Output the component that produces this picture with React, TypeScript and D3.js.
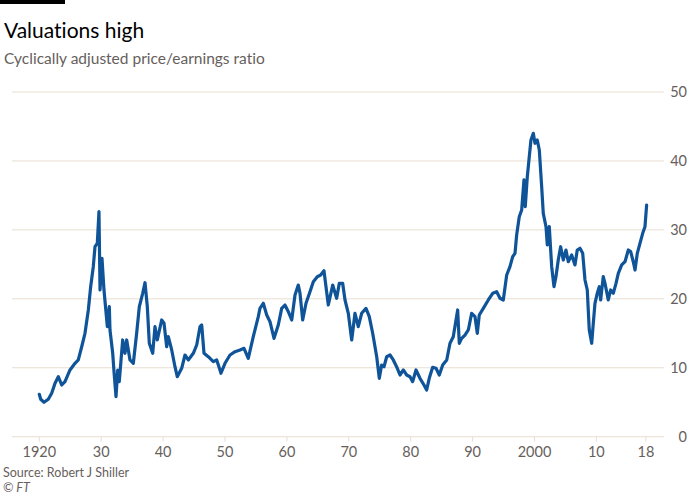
import React from "react";
import * as d3 from "d3";

const years: number[] = [
  1920.0, 1920.23, 1920.76, 1921.45, 1922.0, 1922.54, 1923.07, 1923.62, 1924.15, 1924.96,
  1925.77, 1926.3, 1926.85, 1927.38, 1927.92, 1928.3, 1928.72, 1929.0, 1929.37, 1929.64,
  1929.81, 1930.13, 1930.45, 1930.99, 1931.31, 1931.42, 1931.86, 1932.07, 1932.39, 1932.67,
  1932.92, 1933.47, 1933.84, 1934.12, 1934.65, 1935.19, 1935.73, 1936.16, 1936.7, 1937.08,
  1937.45, 1937.77, 1938.32, 1938.69, 1939.06, 1939.77, 1940.15, 1940.58, 1940.84, 1941.39,
  1941.92, 1942.29, 1943.0, 1943.54, 1944.07, 1944.88, 1945.43, 1945.96, 1946.24, 1946.61,
  1947.3, 1948.11, 1948.66, 1949.19, 1949.35, 1950.0, 1950.81, 1951.62, 1952.43, 1953.07,
  1953.76, 1954.57, 1955.38, 1955.65, 1956.19, 1956.74, 1957.27, 1957.92, 1958.61, 1959.16,
  1959.69, 1960.23, 1960.78, 1961.31, 1961.84, 1962.12, 1962.55, 1963.09, 1963.73, 1964.27,
  1964.91, 1965.46, 1965.99, 1966.69, 1967.4, 1968.04, 1968.47, 1969.01, 1969.39, 1969.92,
  1970.47, 1971.0, 1971.53, 1972.08, 1972.78, 1973.31, 1973.86, 1974.51, 1974.93, 1975.31,
  1975.69, 1976.12, 1976.66, 1977.19, 1977.84, 1978.27, 1978.81, 1979.35, 1979.89, 1980.32,
  1980.86, 1981.5, 1982.15, 1982.58, 1983.0, 1983.55, 1984.09, 1984.62, 1985.17, 1985.82,
  1986.35, 1986.88, 1987.59, 1987.85, 1988.24, 1988.77, 1989.31, 1989.85, 1990.39, 1990.76,
  1991.08, 1991.73, 1992.54, 1993.25, 1993.89, 1994.43, 1994.96, 1995.51, 1996.04, 1996.48,
  1996.85, 1997.12, 1997.54, 1997.93, 1998.3, 1998.51, 1998.84, 1999.16, 1999.43, 1999.81,
  2000.08, 2000.45, 2000.78, 2001.16, 2001.42, 2001.86, 2002.07, 2002.39, 2002.78, 2003.15,
  2003.47, 2003.84, 2004.23, 2004.65, 2005.09, 2005.46, 2006.01, 2006.54, 2006.91, 2007.35,
  2007.79, 2008.16, 2008.53, 2008.85, 2009.24, 2009.5, 2009.77, 2010.14, 2010.47, 2010.69,
  2011.11, 2011.39, 2011.92, 2012.31, 2012.73, 2013.17, 2013.54, 2014.09, 2014.62, 2015.16,
  2015.54, 2015.96, 2016.24, 2016.61, 2017.04, 2017.48, 2017.85, 2018.12,
];

const cape: number[] = [
  6.15, 5.43, 4.99, 5.43, 6.3, 7.75, 8.7, 7.5, 7.98, 9.68,
  10.65, 11.13, 13.05, 15.0, 18.38, 21.76, 24.66, 27.56, 28.05, 32.64,
  21.28, 25.88, 21.28, 15.96, 18.86, 15.48, 12.1, 9.43, 5.8, 9.67,
  7.98, 14.03, 12.1, 14.03, 11.13, 10.65, 15.0, 18.86, 20.8, 22.34,
  18.86, 13.55, 12.1, 15.96, 14.03, 16.93, 16.45, 13.05, 14.51, 12.58,
  10.15, 8.7, 9.92, 11.85, 11.13, 12.1, 13.3, 15.96, 16.2, 12.1,
  11.6, 10.88, 11.13, 9.68, 9.2, 10.65, 11.85, 12.33, 12.58, 12.82,
  11.37, 14.51, 17.41, 18.62, 19.35, 17.65, 16.68, 14.27, 16.2, 18.62,
  19.1, 18.13, 16.93, 20.55, 22.0, 20.8, 16.93, 19.35, 21.03, 22.48,
  23.21, 23.45, 24.08, 19.1, 22.0, 20.08, 22.25, 22.25, 19.83, 17.9,
  14.03, 17.9, 15.96, 17.9, 18.62, 17.41, 15.0, 11.6, 8.47, 10.4,
  10.15, 11.6, 11.85, 11.13, 9.92, 8.95, 9.68, 8.95, 8.7, 7.98,
  9.68, 8.47, 7.5, 6.77, 8.47, 10.07, 9.92, 8.95, 10.4, 11.13,
  13.55, 14.51, 18.38, 13.55, 14.27, 14.75, 15.48, 17.9, 17.41, 15.0,
  17.65, 18.62, 19.83, 20.8, 21.03, 20.08, 19.83, 23.45, 24.66, 26.11,
  26.6, 29.26, 31.91, 32.88, 37.24, 33.36, 37.71, 40.62, 43.04, 44.01,
  42.56, 43.04, 41.59, 36.26, 32.4, 30.46, 27.81, 30.46, 24.66, 21.76,
  23.21, 25.63, 27.56, 25.63, 27.08, 25.38, 26.36, 24.91, 27.08, 27.33,
  26.6, 22.73, 21.28, 15.48, 13.55, 16.45, 19.35, 20.8, 21.76, 19.83,
  23.21, 22.25, 19.83, 21.28, 20.8, 22.25, 23.7, 24.91, 25.38, 27.08,
  26.84, 25.38, 24.18, 26.6, 28.05, 29.5, 30.46, 33.61,
];

const xTickYears: number[] = [1920, 1930, 1940, 1950, 1960, 1970, 1980, 1990, 2000, 2010, 2018];
const xTickLabels: string[] = ["1920", "30", "40", "50", "60", "70", "80", "90", "2000", "10", "18"];
const yTicks: number[] = [0, 10, 20, 30, 40, 50];

const title = "Valuations high";
const subtitle = "Cyclically adjusted price/earnings ratio";
const source = "Source: Robert J Shiller";
const credit = "© FT";

export default function App() {
  const width = 700;
  const height = 496;
  const font = "Lato, 'Open Sans', sans-serif";
  const textGray = "#66605c";
  const gridColor = "#e9ddd0";
  const noLig: React.CSSProperties = { fontVariantLigatures: "none" };

  const x = d3.scaleLinear().domain([1920, 2018]).range([39.3, 645.9]);
  const y = d3.scaleLinear().domain([0, 50]).range([436.7, 92]);

  const data = years.map((yr, i) => [yr, cape[i]] as [number, number]);
  const line = d3
    .line<[number, number]>()
    .x((d) => x(d[0]))
    .y((d) => y(d[1]));

  const gridLeft = 12;
  const gridRight = 664;

  return (
    <div style={{ position: "absolute", left: 0, top: 0 }}>
      <svg width={width} height={height} style={{ display: "block", background: "#fff" }}>
        <rect x={0} y={0} width={65} height={4} fill="#000" />
        <text x={4} y={37.5} fontFamily={font} fontSize={21} fill="#000" style={noLig}>
          {title}
        </text>
        <text x={4} y={64} fontFamily={font} fontSize={15.5} fill={textGray} style={noLig}>
          {subtitle}
        </text>

        {yTicks.map((t) => (
          <g key={t}>
            <line x1={gridLeft} x2={gridRight} y1={y(t)} y2={y(t)} stroke={gridColor} strokeWidth={1} />
            <text
              x={687}
              y={y(t)}
              dy="0.35em"
              textAnchor="end"
              fontFamily={font}
              fontSize={14.5}
              fill={textGray}
            >
              {t}
            </text>
          </g>
        ))}

        {xTickYears.map((t, i) => (
          <g key={t}>
            <line x1={x(t)} x2={x(t)} y1={y(0)} y2={y(0) + 5} stroke={gridColor} strokeWidth={1} />
            <text
              x={x(t)}
              y={457}
              textAnchor="middle"
              fontFamily={font}
              fontSize={14.5}
              fill={textGray}
            >
              {xTickLabels[i]}
            </text>
          </g>
        ))}

        <path
          d={line(data) || ""}
          fill="none"
          stroke="#0f5499"
          strokeWidth={3.2}
          strokeLinejoin="round"
          strokeLinecap="round"
        />

        <text x={3} y={477} fontFamily={font} fontSize={12.5} fill={textGray} style={noLig}>
          {source}
        </text>
        <text x={3} y={492} fontFamily={font} fontSize={12.5} fontStyle="italic" fill={textGray}>
          {credit}
        </text>
      </svg>
    </div>
  );
}
